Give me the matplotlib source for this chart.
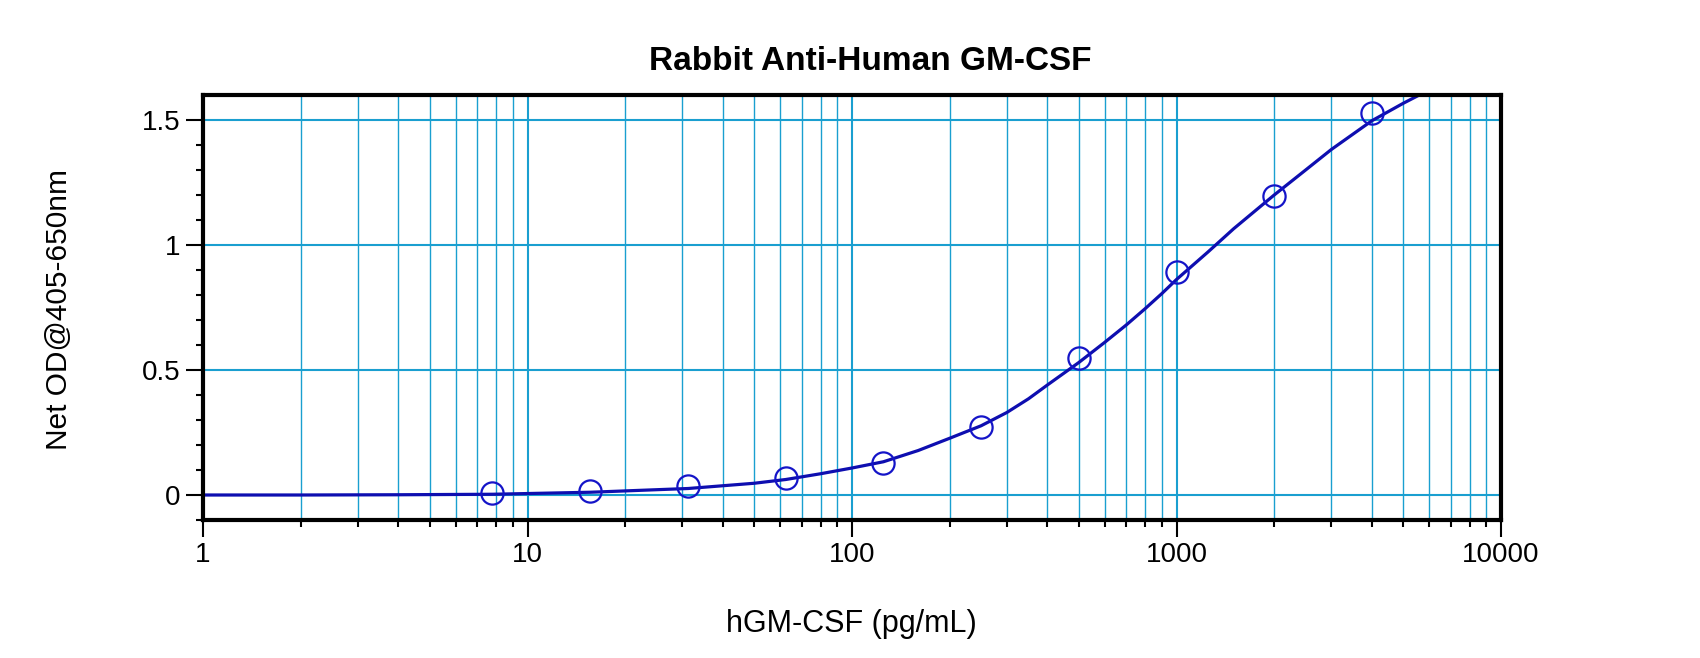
"""Standard curve: Rabbit Anti-Human GM-CSF ELISA."""
import numpy as np
import matplotlib; matplotlib.use("Agg")
import matplotlib.pyplot as plt
from matplotlib.ticker import FixedLocator, NullFormatter, FuncFormatter

plt.rcParams["font.family"] = ["Liberation Sans", "DejaVu Sans"]

# standards (pg/mL) and measured net OD
std_conc = [7.8, 15.6, 31.25, 62.5, 125, 250, 500, 1000, 2000, 4000]
std_od = [0.007, 0.018, 0.038, 0.07, 0.129, 0.273, 0.55, 0.892, 1.195, 1.527]

# fitted curve
fit_conc = [1, 2, 4, 7.8, 15.6, 31.25, 50, 62.5, 80, 100, 125, 160, 200, 250, 300,
            350, 400, 500, 600, 700, 800, 900, 1000, 1250, 1500, 2000, 2500, 3000,
            4000, 5000, 6000]
fit_od = [0.0, 0.0, 0.001, 0.003, 0.011, 0.026, 0.047, 0.062, 0.085, 0.108, 0.133,
          0.178, 0.227, 0.277, 0.33, 0.385, 0.44, 0.53, 0.61, 0.68, 0.745, 0.805, 0.862,
          0.972, 1.065, 1.2, 1.3, 1.382, 1.497, 1.567, 1.62]

x_major = [1, 10, 100, 1000, 10000]
y_major = [0, 0.5, 1, 1.5]

GRID = "#1a9fd0"
BLUE = "#0e0eb0"

fig = plt.figure(figsize=(17, 6.58), dpi=100)
ax = fig.add_axes([203/1700, 1 - 520/658, (1501 - 203)/1700, (520 - 95)/658])

ax.set_xscale("log")
ax.set_xlim(1, 10000)
ax.set_ylim(-0.1, 1.6)

# grid: vertical at every log tick, horizontal at major y only
x_minor = [m * 10**d for d in range(4) for m in range(2, 10)]
for xv in x_minor:
    ax.axvline(xv, color=GRID, lw=1.0, zorder=1)
for xv in x_major[1:-1]:
    ax.axvline(xv, color=GRID, lw=1.5, zorder=1)
for yv in y_major:
    ax.axhline(yv, color=GRID, lw=1.5, zorder=1)

ax.plot(fit_conc, fit_od, color=BLUE, lw=2.3, zorder=3)
ax.plot(std_conc, std_od, "o", ms=16, mfc="none", mec="#1414c8", mew=1.6, zorder=4)

ax.xaxis.set_major_locator(FixedLocator(x_major))
ax.xaxis.set_minor_locator(FixedLocator(x_minor))
ax.xaxis.set_major_formatter(FuncFormatter(lambda v, p: f"{v:g}"))
ax.xaxis.set_minor_formatter(NullFormatter())
ax.yaxis.set_major_locator(FixedLocator(y_major))
ax.yaxis.set_minor_locator(FixedLocator([round(v, 1) for v in np.arange(-0.1, 1.55, 0.1)
                                         if round(v, 1) not in y_major]))
ax.yaxis.set_major_formatter(FuncFormatter(lambda v, p: f"{v:g}"))

ax.tick_params(which="major", length=12, width=1.5, labelsize=20, pad=4, color="black")
ax.tick_params(which="minor", length=5, width=1.5, color="black")
for s in ax.spines.values():
    s.set_linewidth(3)
    s.set_zorder(5)

fig.text(870/1700, 1 - 62/658, "Rabbit Anti-Human GM-CSF", ha="center", va="center",
         fontsize=24, fontweight="bold")
fig.text(851/1700, 1 - 624/658, "hGM-CSF (pg/mL)", ha="center", va="center", fontsize=22)
fig.text(59/1700, 1 - 310/658, "Net OD@405-650nm", ha="center", va="center",
         fontsize=21.5, rotation=90)

fig.savefig("out.png", dpi=100)
plt.close(fig)
